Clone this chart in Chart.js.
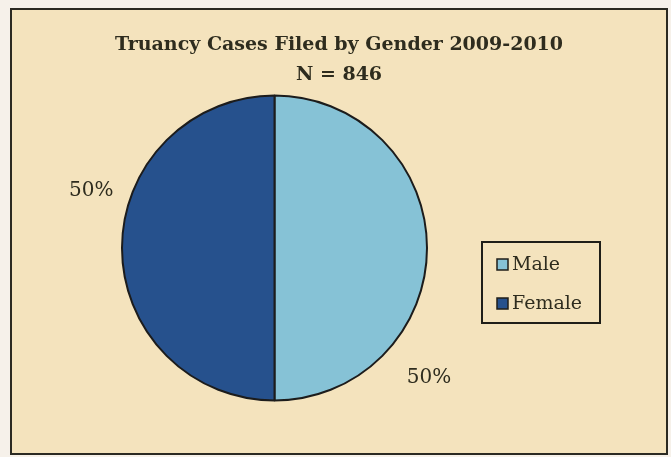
<!DOCTYPE html>
<html>
<head>
<meta charset="utf-8">
<script src="https://cdn.jsdelivr.net/npm/chart.js@4"></script>
<style>
  html, body { margin: 0; padding: 0; background: #f6f1ea; }
  #wrap { width: 671px; height: 457px; position: relative; }
</style>
</head>
<body>
<div id="wrap"><canvas id="c" width="671" height="457"></canvas></div>
<script>
const categories = ["Male", "Female"];
const values = [50, 50];
const percentLabels = ["50%", "50%"];
const titleLines = ["Truancy Cases Filed by Gender 2009-2010", "N = 846"];
const colors = ["#86c2d6", "#26518d"];

const SERIF = '"DejaVu Serif", "Liberation Serif", serif';

const decor = {
  id: 'decor',
  beforeDraw(chart) {
    const ctx = chart.ctx;
    ctx.save();
    ctx.fillStyle = '#f6f1ea';
    ctx.fillRect(0, 0, chart.width, chart.height);
    ctx.fillStyle = '#f4e3bd';
    ctx.fillRect(11, 9, 656, 445);
    ctx.strokeStyle = '#2b2a22';
    ctx.lineWidth = 2;
    ctx.strokeRect(11, 9, 656, 445);
    ctx.restore();
  },
  afterDraw(chart) {
    const ctx = chart.ctx;
    ctx.save();
    // Title
    ctx.fillStyle = '#2e2c1e';
    ctx.font = 'bold 19px ' + SERIF;
    ctx.textAlign = 'center';
    ctx.textBaseline = 'alphabetic';
    ctx.fillText(titleLines[0], 339, 50);
    ctx.fillText(titleLines[1], 339, 80);

    // Percent labels
    ctx.textBaseline = 'middle';
    const meta = chart.getDatasetMeta(0);
    ctx.font = '20px ' + SERIF;
    const labelAngles = [Math.PI * 0.2229, Math.PI * 1.0958];
    const labelDist = [1.325, 1.258];
    meta.data.forEach((arc, i) => {
      const a = labelAngles[i];
      const r = arc.outerRadius * labelDist[i];
      const x = arc.x + Math.cos(a) * r;
      const y = arc.y + Math.sin(a) * r;
      ctx.fillText(percentLabels[i], x, y);
    });

    // Legend
    ctx.strokeStyle = '#1f1e18';
    ctx.lineWidth = 2;
    ctx.strokeRect(482, 242, 118, 81);
    ctx.font = '19px ' + SERIF;
    ctx.textAlign = 'left';
    categories.forEach((name, i) => {
      const y = 265 + i * 39;
      ctx.fillStyle = colors[i];
      ctx.fillRect(497, y - 6, 11, 11);
      ctx.lineWidth = 1.5;
      ctx.strokeStyle = '#1f1e18';
      ctx.strokeRect(497, y - 6, 11, 11);
      ctx.fillStyle = '#2e2c1e';
      ctx.fillText(name, 512, y);
    });
    ctx.restore();
  }
};

new Chart(document.getElementById('c'), {
  type: 'pie',
  data: {
    labels: categories,
    datasets: [{
      data: values,
      backgroundColor: colors,
      borderColor: '#1c1c1c',
      borderWidth: 2
    }]
  },
  options: {
    responsive: false,
    animation: false,
    layout: { padding: { left: 121, right: 243, top: 94, bottom: 55 } },
    plugins: {
      legend: { display: false },
      tooltip: { enabled: false },
      title: { display: false }
    }
  },
  plugins: [decor]
});
</script>
</body>
</html>
